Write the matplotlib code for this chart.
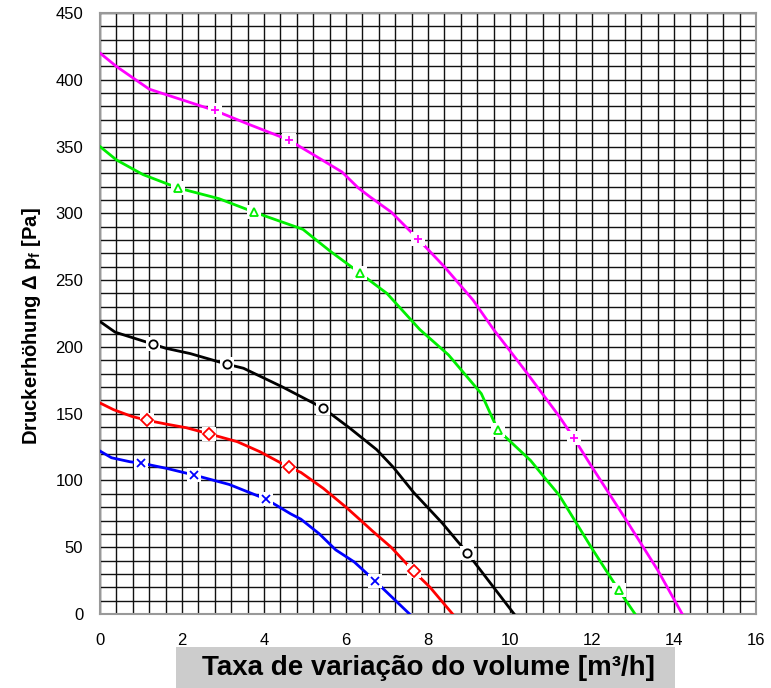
import matplotlib
matplotlib.use("Agg")
import matplotlib.pyplot as plt
from matplotlib.patches import Rectangle
import numpy as np

plt.rcParams['font.family'] = ['Liberation Sans', 'DejaVu Sans']
plt.rcParams['mathtext.fontset'] = 'custom'
plt.rcParams['mathtext.rm'] = 'Liberation Sans'
plt.rcParams['mathtext.bf'] = 'Liberation Sans:bold'

# curve data: volume flow [m3/h] vs pressure rise [Pa]
mag_x = [0, 0.4, 1.2, 2.0, 2.8, 3.6, 4.6, 5.2, 5.9, 6.3, 6.6, 7.1, 7.75, 8.4, 9.1, 9.6, 10.4, 11.2, 11.55, 12.0, 12.8, 13.6, 14.2]
mag_y = [420, 410, 393, 385, 377, 367, 355, 344, 331, 319, 312, 301, 281, 260, 235, 213, 181, 148, 132, 110, 72, 33, 0]
grn_x = [0, 0.4, 1.05, 1.9, 2.9, 3.75, 4.95, 5.6, 6.35, 7.0, 7.8, 8.5, 9.3, 9.7, 10.5, 10.9, 11.2, 12.0, 12.65, 13.05]
grn_y = [350, 340, 329, 319, 311, 301, 288, 272, 255, 240, 213, 194, 165, 138, 115, 100, 89, 49, 18, 0]
blk_x = [0, 0.37, 1.3, 1.6, 2.2, 3.1, 3.5, 4.45, 5.45, 6.1, 6.75, 7.15, 7.65, 8.35, 8.95, 10.1]
blk_y = [219, 211, 202, 199, 195, 187, 184, 170, 154, 139, 123, 110, 91, 68, 46, 0]
red_x = [0, 0.33, 0.77, 1.15, 1.65, 2.1, 2.65, 3.35, 3.9, 4.6, 4.9, 5.45, 6.0, 6.4, 6.65, 7.1, 7.65, 8.05, 8.6]
red_y = [158, 153, 148, 145, 142, 139.5, 135, 129, 121.5, 110, 106, 94, 80, 69, 62, 50, 32, 20, 0]
blu_x = [0, 0.28, 0.73, 1.0, 1.63, 2.3, 3.15, 4.05, 4.65, 4.9, 5.35, 5.75, 6.2, 6.7, 7.55]
blu_y = [122, 117, 114, 113, 109, 104, 97, 86, 75, 71, 60, 48, 39, 25, 0]

# marker positions on each curve
mag_mx = [2.8, 4.6, 7.75, 11.55]
mag_my = [377, 355, 281, 132]
grn_mx = [1.9, 3.75, 6.35, 9.7, 12.65]
grn_my = [319, 301, 255, 138, 18]
blk_mx = [1.3, 3.1, 5.45, 8.95]
blk_my = [202, 187, 154, 46]
red_mx = [1.15, 2.65, 4.6, 7.65]
red_my = [145, 135, 110, 32]
blu_mx = [1.0, 2.3, 4.05, 6.7]
blu_my = [113, 104, 86, 25]

x_ticks = [0, 2, 4, 6, 8, 10, 12, 14, 16]
y_ticks = [0, 50, 100, 150, 200, 250, 300, 350, 400, 450]

fig = plt.figure(figsize=(7.71, 6.88), dpi=100)
ax = fig.add_axes([100 / 771, 74 / 688, 656 / 771, 601 / 688])

ax.set_xlim(0, 16)
ax.set_ylim(0, 450)
ax.set_xticks(x_ticks)
ax.set_yticks(y_ticks)
ax.set_xticks(np.arange(0, 16.01, 0.4), minor=True)
ax.set_yticks(np.arange(0, 451, 10), minor=True)
ax.grid(which='both', color='#111111', linewidth=1.0)
ax.set_axisbelow(True)
ax.tick_params(which='both', length=0)
ax.tick_params(axis='x', pad=14, labelsize=12)
ax.tick_params(axis='y', pad=12, labelsize=12)
for s in ax.spines.values():
    s.set_color('#999999')
    s.set_linewidth(1.5)

curves = [
    (mag_x, mag_y, mag_mx, mag_my, '#ff00ff', '+'),
    (grn_x, grn_y, grn_mx, grn_my, '#00ee00', '^'),
    (blk_x, blk_y, blk_mx, blk_my, '#000000', 'o'),
    (red_x, red_y, red_mx, red_my, '#ff0000', 'D'),
    (blu_x, blu_y, blu_mx, blu_my, '#0000ff', 'x'),
]
for cx, cy, mx, my, col, mk in curves:
    ax.plot(cx, cy, color=col, linewidth=2.0, zorder=3)
    ax.plot(mx, my, 's', color='white', markersize=10, markeredgewidth=0, zorder=4)
    ax.plot(mx, my, mk, color=col, markerfacecolor='white', markersize=6,
            markeredgewidth=1.3, zorder=5)

fig.text(32 / 771, 1 - 326 / 688, r'Druckerhöhung Δ p$_\mathbf{f}$ [Pa]',
         rotation=90, ha='center', va='center', fontsize=14.5, fontweight='bold')

fig.patches.append(Rectangle((176 / 771, 0), 499 / 771, 41 / 688,
                             transform=fig.transFigure, facecolor='#cccccc',
                             edgecolor='none'))
fig.text(428 / 771, 20 / 688, 'Taxa de variação do volume [m³/h]',
         ha='center', va='center', fontsize=20, fontweight='bold')

fig.savefig('out.png', dpi=100)
